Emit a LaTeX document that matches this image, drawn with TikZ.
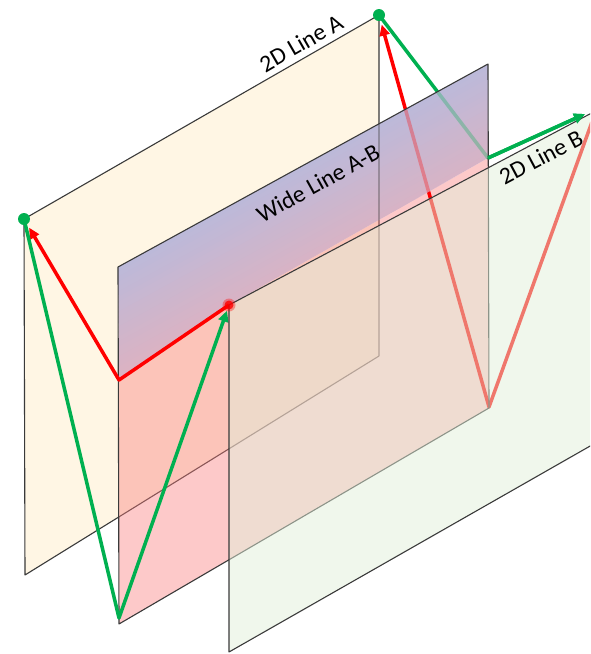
\documentclass[tikz,border=0pt]{standalone}
\usepackage{fontspec}
\setmainfont{Carlito}
\usetikzlibrary{arrows.meta}
\definecolor{creamA}{HTML}{FFF6E4}
\definecolor{lavM}{HTML}{BCB9D9}
\definecolor{pinkM}{HTML}{DEB2C1}
\definecolor{pinkP}{HTML}{FA7F7F}
\definecolor{greenB}{HTML}{E1EFD9}
\definecolor{pptgreen}{HTML}{00B050}
\definecolor{edgec}{HTML}{3A3A3A}
\begin{document}
\begin{tikzpicture}[x=1pt,y=-1pt,
  edge/.style={draw=edgec, line width=1.1pt, line join=round},
  redln/.style={draw=red, line width=3.5pt, line join=round},
  grnln/.style={draw=pptgreen, line width=3.5pt, line join=round},
  tip/.style={-{Triangle[length=11pt,width=10pt]}},
  lbl/.style={font=\fontsize{24}{28}\selectfont, text=black, inner sep=0pt}]
\useasboundingbox (0,0) rectangle (590,654);
\clip (0,0) rectangle (590,654);
% plane A
\coordinate (A1) at (24,219);
\coordinate (A2) at (379,15);
\coordinate (A3) at (379,356);
\coordinate (A4) at (25,575);
% middle plane
\coordinate (M1) at (118,267);
\coordinate (M2) at (488,64);
\coordinate (M3) at (489,408);
\coordinate (M4) at (119,624);
\coordinate (Mr) at (488,158);
\coordinate (Pv) at (119,380);
\coordinate (Pd) at (229,305);
% plane B
\coordinate (B1) at (229,305);
\coordinate (B2) at (620,98);
\coordinate (B3) at (620,429);
\coordinate (B4) at (229,652);
% path points
\coordinate (Gv) at (119,618);
\coordinate (Rv) at (489,407);
\coordinate (Rs) at (597,108);
\coordinate (Ge) at (585,114);

\fill[creamA] (A1) -- (A2) -- (A3) -- (A4) -- cycle;
\draw[edge] (A1) -- (A2) -- (A3) -- (A4) -- cycle;

\fill[pinkP, fill opacity=0.42] (Pv) -- (Pd) -- (Mr) -- (M3) -- (M4) -- cycle;

\draw[redln, tip, shorten >=10pt] (Rs) -- (Rv) -- (A2);
\draw[grnln, tip] (A2) -- (Mr) -- (Ge);

\begin{scope}
\clip (M1) -- (M2) -- (Mr) -- (Pd) -- (Pv) -- cycle;
\foreach \i in {0,...,23} {
  \pgfmathtruncatemacro\pct{100-\i*100/23}
  \fill[fill=lavM!\pct!pinkM] (100,{276.9+\i*5}) -- ++(400,-219.6) -- ++(0,5.8) -- ++(-400,219.6) -- cycle;
}
\draw[edge, opacity=0.35] (A2) -- (A3);
\draw[redln, opacity=0.3] (Rv) -- (A2);
\draw[grnln, opacity=0.3] (A2) -- (Mr);
\end{scope}

\draw[edge] (M1) -- (M2) -- (M3) -- (M4) -- cycle;

\draw[redln, tip, shorten >=10pt] (Pd) -- (Pv) -- (A1);
\draw[grnln, tip, shorten >=6pt] (A1) -- (Gv) -- (Pd);

\fill[greenB, fill opacity=0.5] (B1) -- (B2) -- (B3) -- (B4) -- cycle;
\draw[edge] (B2) -- (B1) -- (B4) -- (B3);

\draw[grnln, tip] (Mr) -- (Ge);

\fill[pptgreen] (A1) circle (6pt);
\fill[pptgreen] (A2) circle (6pt);
\fill[red, opacity=0.35] (Pd) circle (6.5pt);
\fill[red, opacity=0.8] (Pd) circle (4.5pt);

\node[lbl, rotate=30] (la) at (301,43) {2D Line A};
\node[lbl, rotate=29] (lw) at (318,183) {Wide Line A-B};
\node[lbl, rotate=28] (lb) at (541,157) {2D Line B};
\end{tikzpicture}
\end{document}
